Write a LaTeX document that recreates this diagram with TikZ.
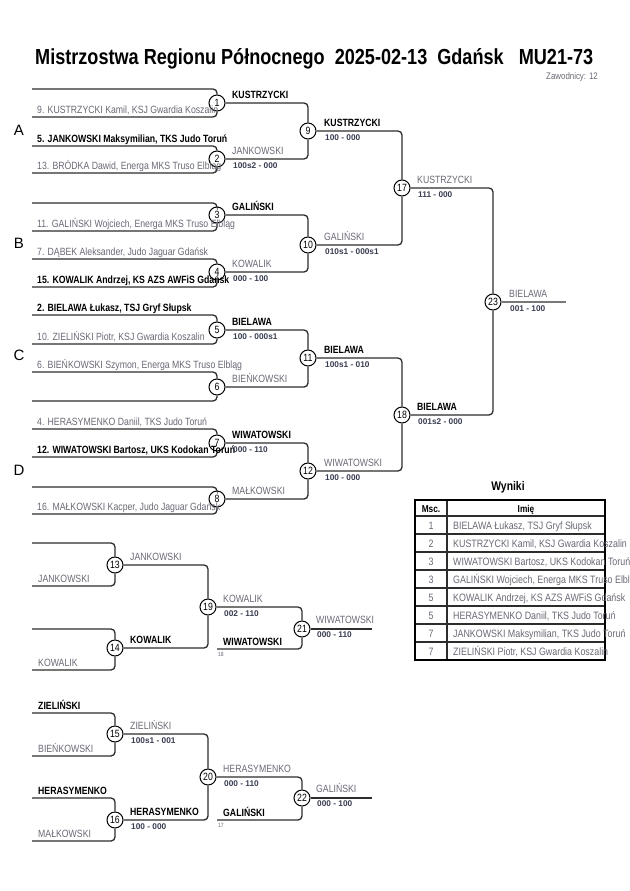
\documentclass[tikz,border=0pt]{standalone}
\usepackage{fontspec}
\setmainfont{Liberation Sans}[FakeStretch=0.83]
\newfontfamily\poolfont{Liberation Sans}
\definecolor{LineDark}{RGB}{45,45,45}
\definecolor{NameGray}{RGB}{105,105,118}
\definecolor{ScoreInk}{RGB}{55,60,80}
\definecolor{FinalGray}{RGB}{120,120,120}
\tikzset{
  bline/.style={draw=LineDark,line width=1.3bp,rounded corners=4bp},
  finline/.style={draw=FinalGray,line width=2bp},
  match/.style={circle,draw=black,line width=1bp,fill=white,minimum size=16bp,inner sep=0pt,text=black,font=\fontsize{10.5bp}{12bp}\selectfont},
  loser/.style={anchor=base west,inner sep=0pt,text=NameGray,font=\fontsize{10.5bp}{12bp}\selectfont},
  winner/.style={anchor=base west,inner sep=0pt,text=black,font=\fontsize{10.5bp}{12bp}\selectfont\bfseries},
  score/.style={anchor=base west,inner sep=0pt,text=ScoreInk,font=\fontsize{8.3bp}{10bp}\selectfont\poolfont\bfseries},
  refno/.style={anchor=base west,inner sep=0pt,text=NameGray,font=\fontsize{6bp}{7bp}\selectfont},
  pool/.style={inner sep=0pt,text=black,font=\fontsize{15bp}{18bp}\selectfont\poolfont},
  title/.style={anchor=base west,inner sep=0pt,text=black,font=\fontsize{21.8bp}{24bp}\selectfont\bfseries},
  count/.style={anchor=base east,inner sep=0pt,text=NameGray,font=\fontsize{9.5bp}{11bp}\selectfont},
  tabtitle/.style={anchor=base,inner sep=0pt,text=black,font=\fontsize{12.5bp}{14bp}\selectfont\bfseries},
  tabbold/.style={anchor=base,inner sep=0pt,text=black,font=\fontsize{10bp}{12bp}\selectfont\bfseries},
  tabnum/.style={anchor=base,inner sep=0pt,text=NameGray,font=\fontsize{10.7bp}{13bp}\selectfont},
  tabname/.style={anchor=base west,inner sep=0pt,text=NameGray,font=\fontsize{10.7bp}{13bp}\selectfont},
  tabrule/.style={draw=black,line width=2bp},
  tabline/.style={draw=LineDark,line width=1.1bp}
}
\begin{document}
\begin{tikzpicture}[x=1bp,y=-1bp]
  \useasboundingbox (0,0) rectangle (630,891);
  \node[title] (head) at (35,64) {Mistrzostwa Regionu Północnego~~2025-02-13~~Gdańsk~~~MU21-73};
  \node[count] (cnt) at (598,79) {Zawodnicy: 12};
  \foreach \p/\y in {A/130,B/243,C/355,D/470}
    \node[pool] (pool\p) at (19,\y) {\p};
  \foreach \n/\x/\y in {1/217/103,2/217/159,3/217/215,4/217/272,5/217/330,6/217/387,7/217/443,8/217/499,
    9/308/131,10/308/245,11/308/358,12/308/471,17/402/188,18/402/415,23/493/302,
    13/115/565,14/115/648,15/115/734,16/115/820,19/208/607,20/208/777,21/302/629,22/302/798}
    \node[match] (m\n) at (\x,\y) {\n};
  \foreach \n/\yt/\yb in {1/89/117,2/146/173,3/203/231,4/259/287,5/315/344,6/372/401,7/429/457,8/487/514,
    13/543/586,14/629/670,15/713/756,16/798/841}{
    \coordinate (top\n) at (32,\yt);
    \coordinate (bot\n) at (32,\yb);
    \draw[bline] (top\n) -| (m\n);
    \draw[bline] (bot\n) -| (m\n);
  }
  \coordinate (in21) at (217,649);
  \coordinate (in22) at (217,820);
  \draw[bline] (in21) -| (m21);
  \draw[bline] (in22) -| (m22);
  \foreach \a/\b in {1/9,2/9,3/10,4/10,5/11,6/11,7/12,8/12,9/17,10/17,11/18,12/18,17/23,18/23,
    13/19,14/19,19/21,15/20,16/20,20/22}
    \draw[bline] (m\a) -| (m\b);
  \coordinate (out23) at (566,302);
  \coordinate (out21) at (372,629);
  \coordinate (out22) at (372,798);
  \draw[finline] (m23) -- (out23);
  \draw[bline] (m21) -- (out21);
  \draw[bline] (m22) -- (out22);

  \node[loser] (e1b) at (37,113.5) {9. KUSTRZYCKI Kamil, KSJ Gwardia Koszalin};
  \node[winner] (e2t) at (37,142.5) {5. JANKOWSKI Maksymilian, TKS Judo Toruń};
  \node[loser] (e2b) at (37,169.5) {13. BRÓDKA Dawid, Energa MKS Truso Elbląg};
  \node[loser] (e3b) at (37,227.5) {11. GALIŃSKI Wojciech, Energa MKS Truso Elbląg};
  \node[loser] (e4t) at (37,255.5) {7. DĄBEK Aleksander, Judo Jaguar Gdańsk};
  \node[winner] (e4b) at (37,283.5) {15. KOWALIK Andrzej, KS AZS AWFiS Gdańsk};
  \node[winner] (e5t) at (37,311.5) {2. BIELAWA Łukasz, TSJ Gryf Słupsk};
  \node[loser] (e5b) at (37,340.5) {10. ZIELIŃSKI Piotr, KSJ Gwardia Koszalin};
  \node[loser] (e6t) at (37,368.5) {6. BIEŃKOWSKI Szymon, Energa MKS Truso Elbląg};
  \node[loser] (e7t) at (37,425.5) {4. HERASYMENKO Daniil, TKS Judo Toruń};
  \node[winner] (e7b) at (37,453.5) {12. WIWATOWSKI Bartosz, UKS Kodokan Toruń};
  \node[loser] (e8b) at (37,510.5) {16. MAŁKOWSKI Kacper, Judo Jaguar Gdańsk};

  \node[winner] (w1) at (232,98.5) {KUSTRZYCKI};
  \node[loser] (w2) at (232,154.5) {JANKOWSKI};
  \node[score] (s2) at (233,168.5) {100s2 - 000};
  \node[winner] (w3) at (232,210.5) {GALIŃSKI};
  \node[loser] (w4) at (232,267.5) {KOWALIK};
  \node[score] (s4) at (233,281.5) {000 - 100};
  \node[winner] (w5) at (232,325.5) {BIELAWA};
  \node[score] (s5) at (233,339.5) {100 - 000s1};
  \node[loser] (w6) at (232,382.5) {BIEŃKOWSKI};
  \node[winner] (w7) at (232,438.5) {WIWATOWSKI};
  \node[score] (s7) at (233,452.5) {000 - 110};
  \node[loser] (w8) at (232,494.5) {MAŁKOWSKI};
  \node[winner] (w9) at (324,126.5) {KUSTRZYCKI};
  \node[score] (s9) at (325,140.5) {100 - 000};
  \node[loser] (w10) at (324,240.5) {GALIŃSKI};
  \node[score] (s10) at (325,254.5) {010s1 - 000s1};
  \node[winner] (w11) at (324,353.5) {BIELAWA};
  \node[score] (s11) at (325,367.5) {100s1 - 010};
  \node[loser] (w12) at (324,466.5) {WIWATOWSKI};
  \node[score] (s12) at (325,480.5) {100 - 000};
  \node[loser] (w17) at (417,183.5) {KUSTRZYCKI};
  \node[score] (s17) at (418,197.5) {111 - 000};
  \node[winner] (w18) at (417,410.5) {BIELAWA};
  \node[score] (s18) at (418,424.5) {001s2 - 000};
  \node[loser] (w23) at (509,297.5) {BIELAWA};
  \node[score] (s23) at (510,311.5) {001 - 100};

  \node[loser] (e13b) at (38,582.5) {JANKOWSKI};
  \node[loser] (e14b) at (38,666.5) {KOWALIK};
  \node[winner] (e15t) at (38,709.5) {ZIELIŃSKI};
  \node[loser] (e15b) at (38,752.5) {BIEŃKOWSKI};
  \node[winner] (e16t) at (38,794.5) {HERASYMENKO};
  \node[loser] (e16b) at (38,837.5) {MAŁKOWSKI};
  \node[loser] (w13) at (130,560.5) {JANKOWSKI};
  \node[winner] (w14) at (130,643.5) {KOWALIK};
  \node[loser] (w15) at (130,729.5) {ZIELIŃSKI};
  \node[score] (s15) at (131,743.5) {100s1 - 001};
  \node[winner] (w16) at (130,815.5) {HERASYMENKO};
  \node[score] (s16) at (131,829.5) {100 - 000};
  \node[loser] (w19) at (223,602.5) {KOWALIK};
  \node[score] (s19) at (224,616.5) {002 - 110};
  \node[winner] (e21b) at (223,645.5) {WIWATOWSKI};
  \node[refno] (f21) at (218,656) {18};
  \node[loser] (w20) at (223,772.5) {HERASYMENKO};
  \node[score] (s20) at (224,786.5) {000 - 110};
  \node[winner] (e22b) at (223,816.5) {GALIŃSKI};
  \node[refno] (f22) at (218,827) {17};
  \node[loser] (w21) at (316,623.5) {WIWATOWSKI};
  \node[score] (s21) at (317,637.5) {000 - 110};
  \node[loser] (w22) at (316,792.5) {GALIŃSKI};
  \node[score] (s22) at (317,806.5) {000 - 100};

  \node[tabtitle] (wyniki) at (508,490) {Wyniki};
  \foreach \r in {516,534,...,642}
    \draw[tabline] (415,\r) -- (605,\r);
  \draw[tabline] (447,500) -- (447,660);
  \draw[tabrule] (415,500) rectangle (605,660);
  \node[tabbold] (hmsc) at (431,512) {Msc.};
  \node[tabbold] (himie) at (526,512) {Imię};
  \foreach \i/\p/\nm in {1/1/{BIELAWA Łukasz, TSJ Gryf Słupsk},2/2/{KUSTRZYCKI Kamil, KSJ Gwardia Koszalin},
    3/3/{WIWATOWSKI Bartosz, UKS Kodokan Toruń},4/3/{GALIŃSKI Wojciech, Energa MKS Truso Elbląg},
    5/5/{KOWALIK Andrzej, KS AZS AWFiS Gdańsk},6/5/{HERASYMENKO Daniil, TKS Judo Toruń},
    7/7/{JANKOWSKI Maksymilian, TKS Judo Toruń},8/7/{ZIELIŃSKI Piotr, KSJ Gwardia Koszalin}}{
    \node[tabnum] (pl\i) at (431,{511+18*\i}) {\p};
    \node[tabname] (nm\i) at (453,{511+18*\i}) {\nm};
  }
\end{tikzpicture}
\end{document}
